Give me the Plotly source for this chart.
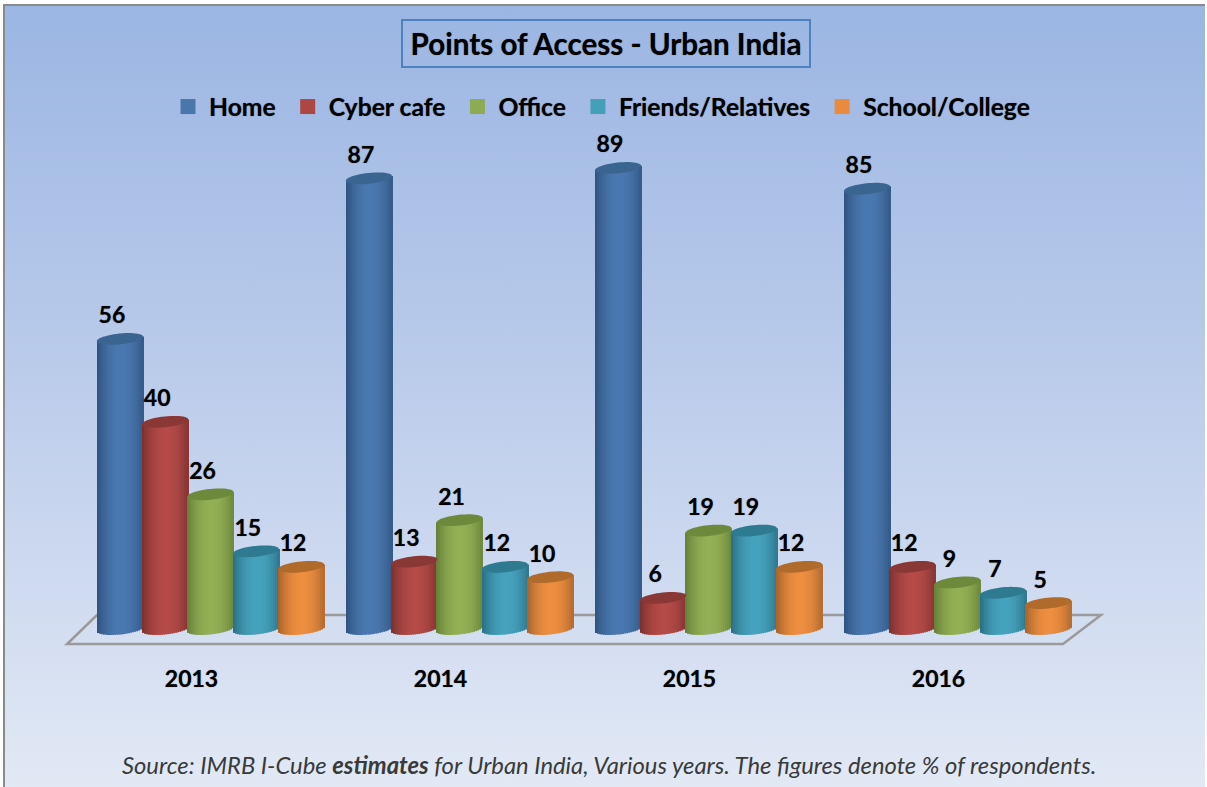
import base64, math
import plotly.graph_objects as go

years = ["2013", "2014", "2015", "2016"]
series_names = ["Home", "Cyber cafe", "Office", "Friends/Relatives", "School/College"]
home = [56, 87, 89, 85]
cyber = [40, 13, 6, 12]
office = [26, 21, 19, 9]
friends = [15, 12, 19, 7]
school = [12, 10, 12, 5]
series_values = [home, cyber, office, friends, school]
title_text = "Points of Access - Urban India"
source_text = ("Source: IMRB I-Cube <b>estimates</b> for Urban India, Various years. "
               "The figures denote % of respondents.")

center_cols = [(73, 120, 176), (181, 74, 71), (147, 176, 85), (69, 162, 189), (238, 142, 64)]
edge_cols = [(47, 82, 126), (120, 48, 46), (100, 126, 56), (42, 110, 130), (165, 98, 44)]
top_cols = ["#3b6591", "#8a3835", "#6d8a3c", "#2e7a90", "#b06a2c"]
swatch_cols = ["#4a76ab", "#ad4744", "#8dab52", "#43a0b8", "#ea8a3c"]

W, H = 1207, 787
PX_X = 249.0          # pixels per category
PX_Y = 5.18           # pixels per value unit
BAR = 45.3            # cylinder width in px
A, B, THETA = 23.2, 5.4, math.radians(6)
X0, X1 = 86, 1082     # plot area
Y0, Y1 = 120, 650
Y_ZERO = 629
N = 23
SLICE = 2             # px per slice
SHADOW = "0 0 1px rgba(0,0,0,0.55)"


def mix(a, b, t):
    return "rgb(%d,%d,%d)" % tuple(round(a[i] + (b[i] - a[i]) * t) for i in range(3))


def bright(t):
    # t in -1..1 across the cylinder; darkest at edges, lightest just right of centre
    d = abs(t - 0.05) / 1.05
    return max(0.0, 1 - d ** 2.0)


def ellipse_path(cx, val):
    pts = []
    for k in range(48):
        a = 2 * math.pi * k / 48
        xp = A * math.cos(a) * math.cos(THETA) - B * math.sin(a) * math.sin(THETA)
        yp = A * math.cos(a) * math.sin(THETA) + B * math.sin(a) * math.cos(THETA)
        pts.append("%.4f,%.4f" % (cx + xp / PX_X, val + yp / PX_Y))
    return "M" + " L".join(pts) + " Z"


fig = go.Figure()
shapes = []

# cylinder bodies, one bar trace per series made of narrow shaded slices
for s, vals in enumerate(series_values):
    xs, ys, bases, offs, wids, cols = [], [], [], [], [], []
    for i, v in enumerate(vals):
        cx_px = (i + 0.5) * PX_X + (s - 2) * BAR   # px from plot left
        left_px = round(cx_px - A)
        for n in range(N):
            t = -1 + (2 * n + 1) / N
            u = t * A
            bottom = (u * math.tan(THETA) - B * math.sqrt(max(0, 1 - t * t))) / PX_Y
            top = v + u * math.tan(THETA) / PX_Y
            xs.append(i)
            ys.append(top - bottom)
            bases.append(bottom)
            offs.append((left_px + n * SLICE) / PX_X - (i + 0.5))
            wids.append((SLICE + 1) / PX_X)
            cols.append(mix(edge_cols[s], center_cols[s], bright(t)))
    fig.add_trace(go.Bar(x=xs, y=ys, base=bases, offset=offs, width=wids,
                         marker=dict(color=cols, line=dict(width=0)),
                         showlegend=False, hoverinfo="skip"))
    for i, v in enumerate(vals):
        shapes.append(dict(type="path", xref="x", yref="y", layer="above",
                           path=ellipse_path(i + (s - 2) * BAR / PX_X, v),
                           fillcolor=top_cols[s], line=dict(width=0)))

# value labels
for s, vals in enumerate(series_values):
    fig.add_trace(go.Scatter(
        x=[i + ((s - 2) * BAR - 8) / PX_X for i in range(len(vals))],
        y=[v + 1.9 for v in vals],
        text=[str(v) for v in vals], mode="text", textposition="top center",
        textfont=dict(family="Lato", size=23, color="black", weight="bold", shadow=SHADOW),
        showlegend=False, hoverinfo="skip"))

# legend entries (a trailing no-break space sets the entry spacing)
for s, name in enumerate(series_names):
    fig.add_trace(go.Scatter(x=[None], y=[None], mode="markers", name=name + "\u00a0",
                             marker=dict(symbol="square", size=15, color=swatch_cols[s])))

svg = ('<svg xmlns="http://www.w3.org/2000/svg" width="1201" height="782" preserveAspectRatio="none">'
       '<defs><linearGradient id="g" x1="0" y1="0" x2="0" y2="1">'
       '<stop offset="0" stop-color="#9bb6e3"/><stop offset="0.5" stop-color="#bdcdeb"/>'
       '<stop offset="1" stop-color="#e2e9f5"/></linearGradient></defs>'
       '<rect width="1201" height="782" fill="url(#g)"/></svg>')
bg = "data:image/svg+xml;base64," + base64.b64encode(svg.encode()).decode()


def px(x):
    return x / W


def py(y):
    return 1 - y / H


def rect_path(pts):
    return "M" + " L".join("%.5f,%.5f" % (px(a), py(b)) for a, b in pts)


shapes.insert(0, dict(type="path", xref="paper", yref="paper", layer="below",
                      path=rect_path([(67, 644), (1063, 644), (1101, 615), (97, 615)]) + " Z",
                      line=dict(color="#9a9a9a", width=2.5)))
shapes.append(dict(type="path", xref="paper", yref="paper", layer="below",
                   path=rect_path([(4, 787), (4, 5), (1205, 5)]),
                   line=dict(color="#8a8a8a", width=2)))
shapes.append(dict(type="rect", xref="paper", yref="paper", layer="below",
                   x0=px(402), x1=px(810), y0=py(67), y1=py(20),
                   line=dict(color="#4f81bd", width=2)))

fig.update_layout(
    width=W, height=H, autosize=False,
    margin=dict(l=0, r=0, t=0, b=0),
    paper_bgcolor="white", plot_bgcolor="rgba(0,0,0,0)",
    barmode="overlay", shapes=shapes,
    images=[dict(source=bg, xref="paper", yref="paper", x=px(4), y=py(5),
                 sizex=1201 / W, sizey=782 / H, sizing="stretch", layer="below",
                 xanchor="left", yanchor="top")],
    title=dict(text="<b>%s</b>" % title_text, x=606 / W, xanchor="center", xref="paper",
               y=py(45), yanchor="middle", yref="paper",
               font=dict(family="Lato", size=29.6, color="black", shadow=SHADOW)),
    legend=dict(orientation="h", x=px(167), y=py(107), xanchor="left", yanchor="middle",
                bgcolor="rgba(0,0,0,0)", itemwidth=32,
                font=dict(family="Lato", size=24.7, color="black", weight="bold", shadow=SHADOW)),
    xaxis=dict(domain=[px(X0), px(X1)], range=[-0.5, 3.5], tickmode="array",
               tickvals=list(range(4)), ticktext=years, showgrid=False, zeroline=False,
               showline=False, ticks="", ticklabelshift=-19, ticklabelstandoff=13,
               tickfont=dict(family="Lato", size=23, color="black", weight="bold", shadow=SHADOW)),
    yaxis=dict(domain=[py(Y1), py(Y0)], range=[-(Y1 - Y_ZERO) / PX_Y, (Y_ZERO - Y0) / PX_Y],
               visible=False),
    annotations=[dict(text="<i>%s</i>" % source_text, xref="paper", yref="paper",
                      x=px(609), y=py(765), xanchor="center", yanchor="middle", showarrow=False,
                      font=dict(family="Lato", size=23.8, color="#3a3a3a"))],
)

fig.write_html("out.html", config=dict(displayModeBar=False),
               post_script="document.body.style.margin='0';document.body.style.overflow='hidden';")
